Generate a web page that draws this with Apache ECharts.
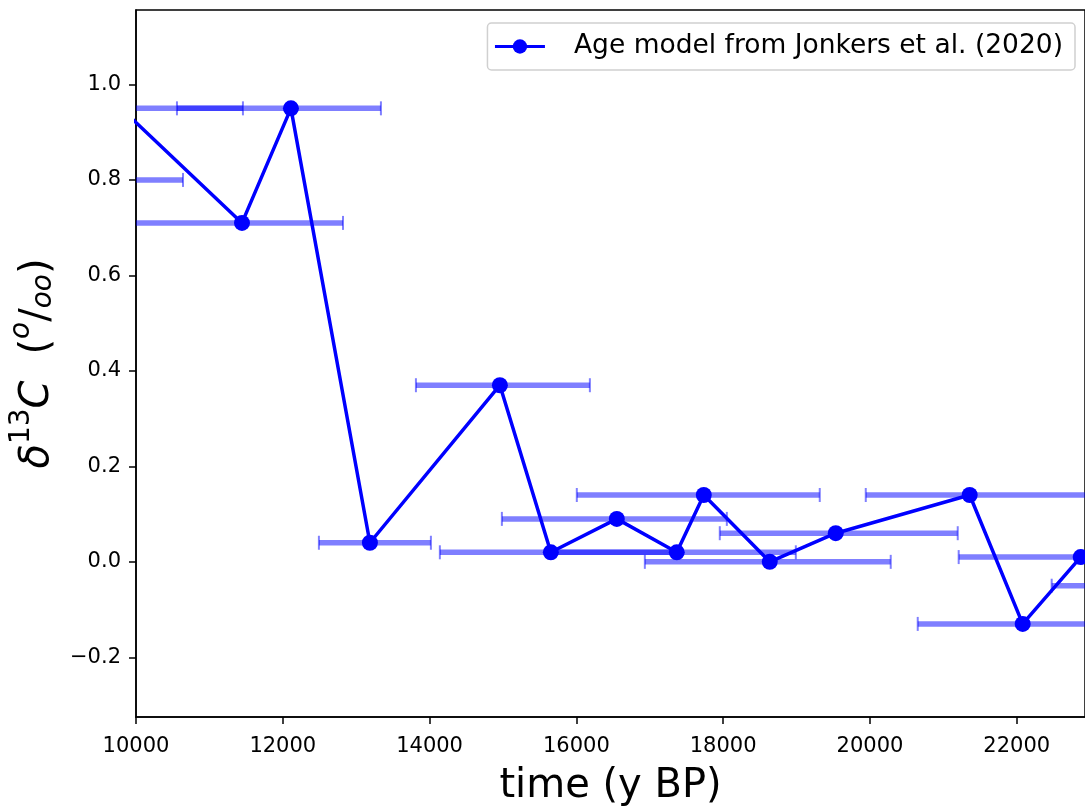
<!DOCTYPE html>
<html>
<head>
<meta charset="utf-8">
<script src="https://cdn.jsdelivr.net/npm/echarts@6/dist/echarts.min.js"></script>
<style>
  html, body { margin: 0; padding: 0; background: #fff; }
  #chart { width: 1085px; height: 808px; }
</style>
</head>
<body>
<div id="chart"></div>
<script>
// age (y BP) of each sample
const ageX = [9000, 9796, 11444, 12111, 13187, 14958, 15652, 16551, 17368, 17736, 18635, 19534, 21359, 22081, 22871, 23500];
// delta 13C (per mil)
const d13C = [0.80, 0.95, 0.71, 0.95, 0.04, 0.37, 0.02, 0.09, 0.02, 0.14, 0.00, 0.06, 0.14, -0.13, 0.01, -0.05];
// age uncertainty, lower and upper bound
const ageLo = [8000, 8200, 9700, 10558, 12492, 13814, 14140, 14985, 15652, 16006, 16933, 17954, 19943, 20651, 21209, 22476];
const ageHi = [10640, 11457, 12820, 13337, 14018, 16184, 17368, 18050, 18990, 19316, 20283, 21196, 23300, 23500, 24500, 24500];
// tick labels
const xTicks = [10000, 12000, 14000, 16000, 18000, 20000, 22000];
const yTicks = [-0.2, 0.0, 0.2, 0.4, 0.6, 0.8, 1.0];
const legendName = 'Age model from Jonkers et al. (2020)';

const FONT = 'DejaVu Sans';
const BLUE = '#0000ff';
const BAR = 'rgba(0,0,255,0.5)';

let lineData = [], errData = [];
for (let i = 0; i < ageX.length; i++) {
    lineData.push([ageX[i], d13C[i]]);
    errData.push([ageX[i], d13C[i], ageLo[i], ageHi[i]]);
}

let chart = echarts.init(document.getElementById('chart'), null, {renderer: 'canvas'});
chart.setOption({
    animation: false,
    backgroundColor: '#fff',
    grid: {
        left: 136,
        top: 10,
        right: 0,
        bottom: 91,
        outerBoundsMode: 'none',
        containLabel: false,
        show: true,
        borderColor: '#000',
        borderWidth: 1.5,
        backgroundColor: 'transparent'
    },
    legend: {
        right: 10,
        top: 23,
        data: [legendName],
        itemWidth: 50,
        itemHeight: 18,
        padding: [10, 12, 10, 6],
        backgroundColor: 'rgba(255,255,255,0.8)',
        borderColor: '#d0d0d0',
        borderWidth: 1.5,
        borderRadius: 4,
        lineStyle: {width: 3},
        textStyle: {fontFamily: FONT, fontSize: 26.5, color: '#000', padding: [0, 0, 0, 24]}
    },
    xAxis: {
        type: 'value',
        min: 10000,
        max: 22930,
        name: 'time (y BP)',
        nameLocation: 'middle',
        nameGap: 50,
        nameTextStyle: {fontFamily: FONT, fontSize: 40, color: '#000'},
        splitLine: {show: false},
        axisLine: {onZero: false, lineStyle: {color: '#000', width: 1.5}},
        axisTick: {show: true, length: 7, inside: false, customValues: xTicks, lineStyle: {color: '#000', width: 1.5}},
        axisLabel: {
            customValues: xTicks,
            margin: 19,
            fontFamily: FONT,
            fontSize: 21,
            color: '#000',
            formatter: v => String(v)
        }
    },
    yAxis: {
        type: 'value',
        min: -0.325,
        max: 1.156,
        name: '{i|δ}{u|13}{i|C}{g| }{n|(}{s|o}{n|/}{b|oo}{n|)}',
        nameLocation: 'middle',
        nameRotate: 90,
        nameGap: 78,
        nameTextStyle: {
            fontFamily: FONT,
            color: '#000',
            rich: {
                i: {fontFamily: FONT, fontStyle: 'italic', fontSize: 40, lineHeight: 50, verticalAlign: 'bottom'},
                n: {fontFamily: FONT, fontSize: 40, lineHeight: 50, verticalAlign: 'bottom'},
                g: {fontFamily: FONT, fontSize: 40, lineHeight: 50, width: 26},
                u: {fontFamily: FONT, fontSize: 28, lineHeight: 50, verticalAlign: 'top'},
                s: {fontFamily: FONT, fontStyle: 'italic', fontSize: 28, lineHeight: 50, verticalAlign: 'top'},
                b: {fontFamily: FONT, fontStyle: 'italic', fontSize: 28, lineHeight: 38, verticalAlign: 'bottom'}
            }
        },
        splitLine: {show: false},
        axisLine: {show: true, onZero: false, lineStyle: {color: '#000', width: 1.5}},
        axisTick: {show: true, length: 7, inside: false, customValues: yTicks, lineStyle: {color: '#000', width: 1.5}},
        axisLabel: {
            customValues: yTicks,
            margin: 15,
            fontFamily: FONT,
            fontSize: 21,
            color: '#000',
            formatter: v => v.toFixed(1).replace('-', '\u2212')
        }
    },
    series: [{
        type: 'custom',
        name: 'err',
        clip: true,
        z: 1,
        encode: {x: [0, 2, 3], y: 1},
        data: errData,
        renderItem: function (params, api) {
            const y = api.value(1);
            const a = api.coord([api.value(2), y]);
            const b = api.coord([api.value(3), y]);
            const h = 7;
            return {
                type: 'group',
                children: [
                    {type: 'line', shape: {x1: a[0], y1: a[1], x2: b[0], y2: b[1]}, style: {stroke: BAR, lineWidth: 5.5}},
                    {type: 'line', shape: {x1: a[0], y1: a[1] - h, x2: a[0], y2: a[1] + h}, style: {stroke: BAR, lineWidth: 2}},
                    {type: 'line', shape: {x1: b[0], y1: b[1] - h, x2: b[0], y2: b[1] + h}, style: {stroke: BAR, lineWidth: 2}}
                ]
            };
        }
    }, {
        type: 'line',
        name: legendName,
        z: 3,
        data: lineData,
        symbol: 'circle',
        symbolSize: 16,
        clip: true,
        itemStyle: {color: BLUE},
        lineStyle: {color: BLUE, width: 3.5}
    }]
});
</script>
</body>
</html>
